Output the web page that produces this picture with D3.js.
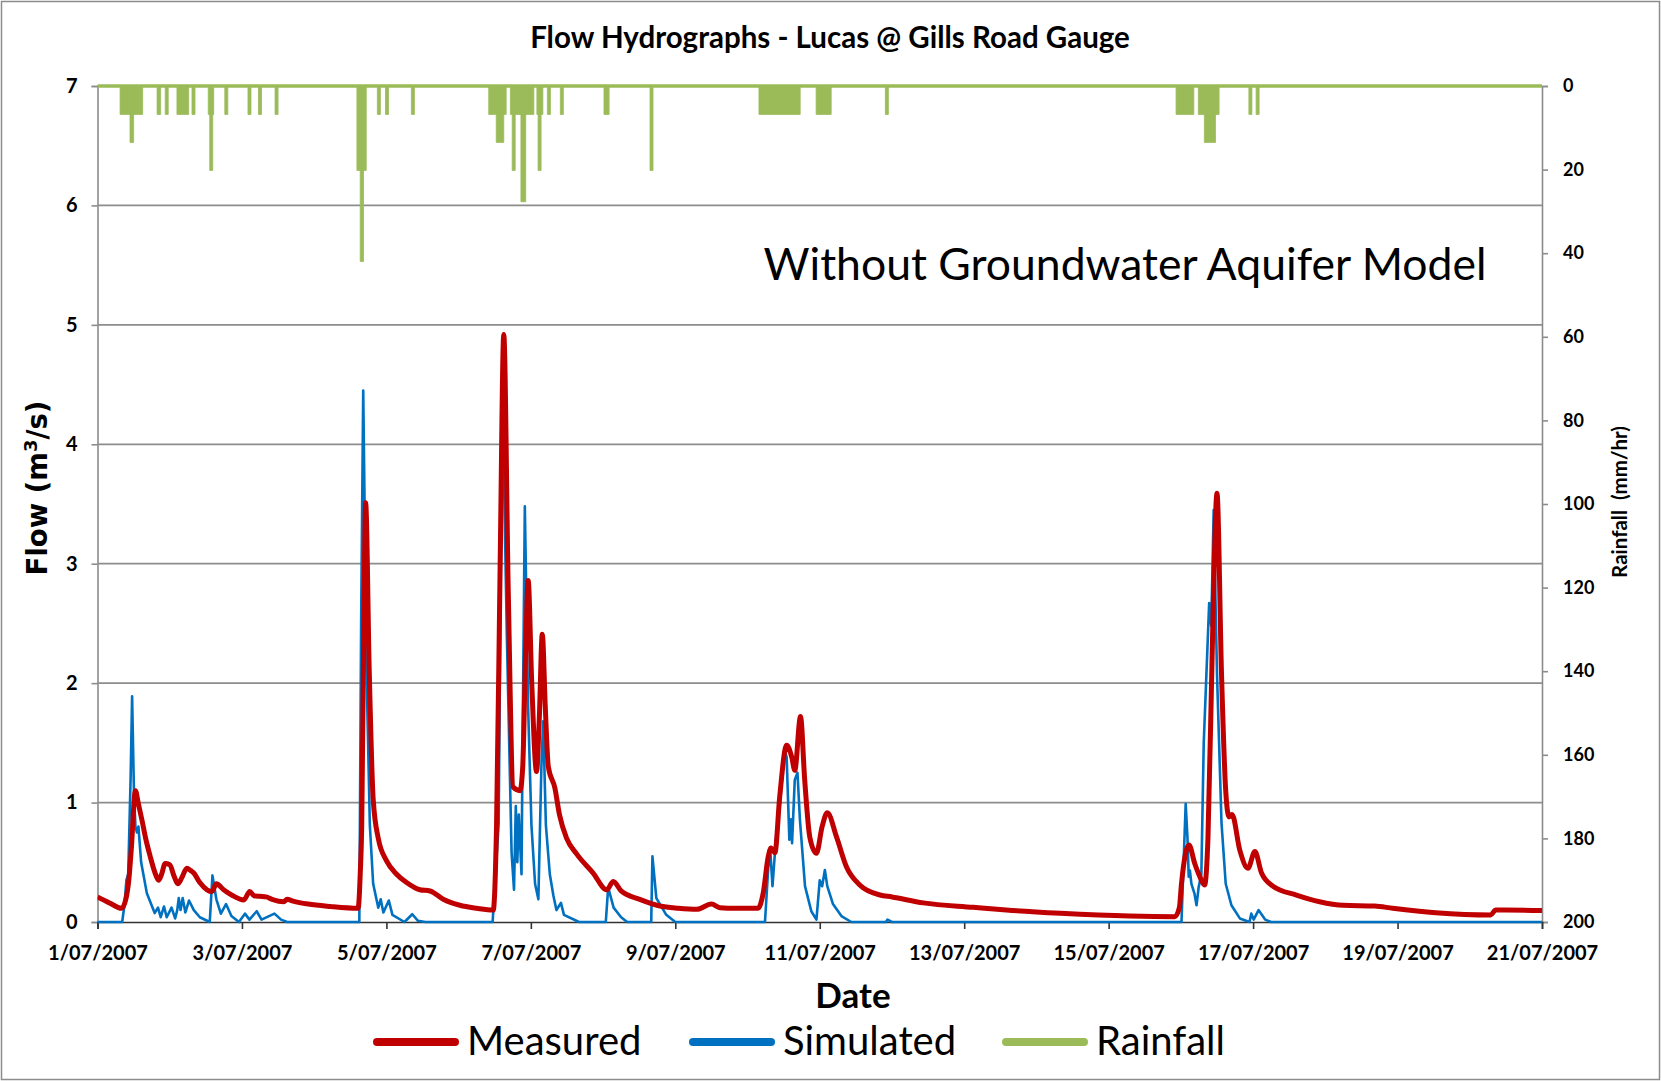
<!DOCTYPE html>
<html><head><meta charset="utf-8">
<script src="https://cdn.jsdelivr.net/npm/d3@7/dist/d3.min.js"></script>
<style>body{margin:0;background:#fff;} svg{display:block;}</style>
</head><body><svg id="chart" width="1661" height="1081"></svg>
<script>
// ---------- data ----------
const xTickLabels = ["1/07/2007","3/07/2007","5/07/2007","7/07/2007","9/07/2007","11/07/2007","13/07/2007","15/07/2007","17/07/2007","19/07/2007","21/07/2007"];
const flowTicks = [0,1,2,3,4,5,6,7];
const rainTicks = [0,20,40,60,80,100,120,140,160,180,200];

// hours since 1/07/2007 00:00
const measuredHours = [0,4,8,9.5,10.4,11.2,12.6,13.5,14.8,16,17.5,19,20.3,21.3,22.5,24,25.5,26.7,28,29.7,31,32,34,36.4,38,39.5,41.9,45,48.6,50.6,52,54,56,58,61.9,63,65,70,77.3,86.6,
  87.3,87.8,88.5,89.1,90.3,91.6,93.3,96.1,99.4,102.7,107.1,110.5,114.9,120.4,126,131.5,132.6,133.8,135,136.5,138.1,140.4,141.3,142.3,143.1,144.3,145.9,146.8,147.8,148.8,149.8,152,153.5,155.9,159.2,164.7,169.2,171.4,174,180.2,186.9,193,199.1,204,206.8,212,
  219.5,221.2,222.9,223.8,225.1,226.7,229,230.7,231.7,233.6,235,236.7,238.9,240.8,242.5,245.6,248.9,253.3,260,264,274.4,291,302,320,343,358,
  359.5,360.2,362.7,364.6,366.3,367.9,369,370.5,372,373.5,374.9,376,377,379.6,382.3,384.6,386.8,390.6,398.4,406.1,414,424.4,430.4,444.7,463,464.5,468,480];
const measuredFlow = [0.21,0.16,0.115,0.2,0.35,0.6,1.1,1.0,0.85,0.7,0.55,0.42,0.35,0.4,0.49,0.48,0.38,0.32,0.37,0.45,0.43,0.41,0.33,0.27,0.255,0.32,0.27,0.22,0.185,0.255,0.22,0.215,0.21,0.19,0.17,0.19,0.175,0.15,0.13,0.115,
  0.4,0.81,2.5,3.51,2.1,1.03,0.7,0.51,0.4,0.33,0.27,0.26,0.19,0.14,0.115,0.1,0.81,3.0,4.92,2.76,1.13,1.1,1.3,2.3,2.86,2.0,1.26,1.7,2.41,1.8,1.3,1.12,0.9,0.7,0.57,0.41,0.27,0.34,0.26,0.19,0.134,0.115,0.106,0.15,0.12,0.115,
  0.115,0.24,0.55,0.62,0.58,1.05,1.48,1.38,1.27,1.72,1.19,0.71,0.575,0.8,0.915,0.71,0.46,0.31,0.226,0.21,0.16,0.123,0.1,0.073,0.05,0.045,
  0.12,0.32,0.645,0.49,0.38,0.31,0.7,2.36,3.59,2.08,1.1,0.88,0.9,0.6,0.45,0.59,0.41,0.3,0.226,0.17,0.14,0.134,0.115,0.078,0.059,0.1,0.1,0.096];

const simulatedHours = [0,8.2,9,9.6,10.2,11,11.5,12.1,12.6,13.1,13.6,14.5,16.4,19,20.1,21,22.1,23,24.6,25.8,26.5,27,27.6,28.3,29.2,30.4,32,34,37.3,38.2,39.5,41,42.7,44.5,47,49,50.5,52.9,54.5,58.8,61,63,
  87,87.6,88.3,89.4,90.5,91.6,93.3,94.1,95,96.8,98,102,104.6,106.5,109,
  131.3,132.5,133.3,134,134.6,136,137.6,138.4,139,139.5,140,140.9,141.3,142,143.1,144.2,145.4,146.5,147.5,148.1,149,150.3,151.5,152.5,154,155,160,
  168.9,169.7,171.5,174,176,184,184.4,185.7,189,192,
  221.8,222.9,223.6,224.3,225.6,226.7,228.3,229,229.9,230.4,230.8,231.7,232.6,233.4,235.1,237.2,238.9,240,240.8,241.7,242.5,244.4,247.2,250.5,262,262.5,264,
  360.2,361.6,362.2,362.6,363,363.5,364.5,365.2,365.9,366.8,367.6,369.4,370.1,370.9,372,373.5,374.9,376.8,379.6,382.8,383.4,384.2,385.8,388,390,480];
const simulatedFlow = [0,0,0.15,0.35,0.4,1.2,1.89,1.1,0.8,0.75,0.8,0.5,0.24,0.075,0.12,0.04,0.13,0.04,0.12,0.03,0.1,0.2,0.1,0.2,0.08,0.18,0.1,0.04,0,0.39,0.19,0.07,0.15,0.05,0,0.07,0.02,0.09,0.02,0.07,0.02,0,
  0,2.5,4.45,2.1,0.81,0.32,0.12,0.19,0.08,0.18,0.06,0,0.065,0.01,0,
  0,0.5,0.82,2.9,4.38,2.43,0.58,0.27,0.97,0.5,0.9,0.4,1.62,3.48,1.79,0.81,0.32,0.19,1.3,1.68,0.81,0.4,0.22,0.1,0.16,0.06,0,
  0,0.29,0.12,0.04,0,0,0.55,0.2,0.06,0,
  0,0.46,0.58,0.3,0.75,0.97,1.44,1.38,0.69,0.86,0.66,1.19,1.25,0.86,0.3,0.09,0.02,0.35,0.3,0.435,0.3,0.15,0.05,0,0,0.02,0,
  0,0.99,0.7,0.38,0.43,0.32,0.24,0.14,0.29,0.4,1.5,2.67,2.48,3.45,2.08,0.83,0.32,0.14,0.03,0,0.07,0.02,0.1,0.02,0,0];

// rainfall bursts: start hour, end hour, intensity (mm/hr)
const rainStart = [7.5,10.8,19.8,22.5,26.4,31.4,36.8,37.3,42.3,50,53.5,59,86.2,87.3,93,95.7,104.3,130,132.5,137.2,137.8,140.7,146,146.4,149.5,153.8,168.3,183.6,219.8,238.8,261.8,358.4,365.8,367.8,382.6,385];
const rainEnd   = [15,12,21,23.5,30.3,32.4,38.6,38.3,43.3,51,54.5,60,89.3,88.4,94,96.7,105.3,135.8,135,145,138.8,142.3,148,147.4,150.5,154.8,170,184.6,233.5,243.8,262.8,364.3,372.7,371.5,383.6,386];
const rainMm    = [6.8,13.5,6.8,6.8,6.8,6.8,6.8,20.2,6.8,6.8,6.8,6.8,20.2,42,6.8,6.8,6.8,6.8,13.5,6.8,20.2,27.7,6.8,20.2,6.8,6.8,6.8,20.2,6.8,6.8,6.8,6.8,6.8,13.5,6.8,6.8];

// ---------- chart ----------
const svg = d3.select("#chart");
const W = 1661, H = 1081;
const plot = {left: 97.5, right: 1542, top: 86, bottom: 922};
const parseTick = d3.timeParse("%d/%m/%Y");
const tickDates = xTickLabels.map(parseTick);
const t0 = tickDates[0];
const hourToDate = h => new Date(t0.getTime() + h * 3600000);

const x = d3.scaleTime().domain([tickDates[0], tickDates[tickDates.length-1]]).range([plot.left, plot.right]);
const yFlow = d3.scaleLinear().domain([0,7]).range([plot.bottom, plot.top]);
const yRain = d3.scaleLinear().domain([0,200]).range([plot.top, plot.bottom]);

const FONT = "Lato, 'Open Sans', sans-serif";

// outer border
svg.append("rect").attr("x",1.5).attr("y",1.5).attr("width",W-3).attr("height",H-3)
  .attr("fill","#fff").attr("stroke","#8c8c8c").attr("stroke-width",1.5);

// gridlines
svg.append("g").selectAll("line").data(flowTicks.filter(d=>d>0)).join("line")
  .attr("x1",plot.left).attr("x2",plot.right)
  .attr("y1",d=>yFlow(d)).attr("y2",d=>yFlow(d))
  .attr("stroke","#8c8c8c").attr("stroke-width",1.8);

// left axis
const gl = svg.append("g").attr("transform",`translate(${plot.left},0)`)
  .call(d3.axisLeft(yFlow).tickValues(flowTicks).tickSize(6).tickPadding(14).tickFormat(d3.format("d")));
gl.select(".domain").attr("stroke","#8c8c8c").attr("stroke-width",1.6);
gl.selectAll(".tick line").attr("stroke","#8c8c8c").attr("stroke-width",1.6);
gl.selectAll(".tick text").attr("font-family",FONT).attr("font-weight","bold").attr("font-size",20).attr("fill","#000");

// right axis
const gr = svg.append("g").attr("transform",`translate(${plot.right},0)`)
  .call(d3.axisRight(yRain).tickValues(rainTicks).tickSize(6).tickPadding(15));
gr.select(".domain").attr("stroke","#8c8c8c").attr("stroke-width",1.6);
gr.selectAll(".tick line").attr("stroke","#8c8c8c").attr("stroke-width",1.6);
gr.selectAll(".tick text").attr("font-family",FONT).attr("font-weight","bold").attr("font-size",18).attr("fill","#000");

// bottom axis
const gb = svg.append("g").attr("transform",`translate(0,${plot.bottom})`)
  .call(d3.axisBottom(x).tickValues(tickDates).tickSize(7).tickPadding(17).tickFormat((d,i)=>xTickLabels[i]));
gb.select(".domain").attr("stroke","#333").attr("stroke-width",1.6);
gb.selectAll(".tick line").attr("stroke","#333").attr("stroke-width",1.6);
gb.selectAll(".tick text").attr("font-family",FONT).attr("font-weight","bold").attr("font-size",20).attr("fill","#000");

// clip
svg.append("clipPath").attr("id","clip").append("rect")
  .attr("x",plot.left).attr("y",plot.top-4).attr("width",plot.right-plot.left).attr("height",plot.bottom-plot.top+8);

const series = svg.append("g").attr("clip-path","url(#clip)");

// rainfall
const rain = rainStart.map((s,i)=>({s, e: rainEnd[i], v: rainMm[i]}));
series.append("g").selectAll("rect").data(rain).join("rect")
  .attr("x",d=>x(hourToDate(d.s))).attr("width",d=>x(hourToDate(d.e))-x(hourToDate(d.s)))
  .attr("y",yRain(0)).attr("height",d=>yRain(d.v)-yRain(0))
  .attr("fill","#9BBB59").attr("stroke","#9BBB59").attr("stroke-width",0.8).attr("stroke-linejoin","round");
series.append("path").datum([0,480])
  .attr("d",d3.line().x(h=>x(hourToDate(h))).y(()=>yRain(0)))
  .attr("stroke","#9BBB59").attr("stroke-width",3.5).attr("fill","none");

// simulated
const lineGen = d3.line().x(d=>x(hourToDate(d[0]))).y(d=>yFlow(d[1]));
series.append("path").datum(simulatedHours.map((h,i)=>[h,simulatedFlow[i]]))
  .attr("d",lineGen).attr("fill","none").attr("stroke","#0070C0").attr("stroke-width",2.6).attr("stroke-linejoin","round");
// measured
series.append("path").datum(measuredHours.map((h,i)=>[h,measuredFlow[i]]))
  .attr("d",lineGen.curve(d3.curveMonotoneX)).attr("fill","none").attr("stroke","#C00000").attr("stroke-width",5).attr("stroke-linejoin","round");

// titles
svg.append("text").attr("x",830).attr("y",48).attr("text-anchor","middle")
  .attr("font-family",FONT).attr("font-weight","bold").attr("font-size",29.5).text("Flow Hydrographs - Lucas @ Gills Road Gauge");
svg.append("text").attr("x",1125).attr("y",280).attr("text-anchor","middle")
  .attr("font-family",FONT).attr("font-size",44.5).text("Without Groundwater Aquifer Model");

// axis labels
const fl = svg.append("text").attr("transform","translate(47,488) rotate(-90)").attr("text-anchor","middle")
  .attr("font-family","'DejaVu Sans', Verdana, sans-serif").attr("font-weight","bold").attr("font-size",27.5);
fl.append("tspan").text("Flow (m");
fl.append("tspan").attr("font-size",18).attr("dy",-10).text("3");
fl.append("tspan").attr("dy",10).text("/s)");

svg.append("text").attr("transform","translate(1627,502) rotate(-90)").attr("text-anchor","middle")
  .attr("font-family",FONT).attr("font-weight","bold").attr("font-size",20.5).style("white-space","pre").text("Rainfall  (mm/hr)");

svg.append("text").attr("x",853).attr("y",1008).attr("text-anchor","middle")
  .attr("font-family",FONT).attr("font-weight","bold").attr("font-size",35).text("Date");

// legend
const legendNames = ["Measured","Simulated","Rainfall"];
const legendColors = ["#C00000","#0070C0","#9BBB59"];
const legendX = [373, 689, 1002];
const lg = svg.append("g").selectAll("g").data(legendNames).join("g")
  .attr("transform",(d,i)=>`translate(${legendX[i]},1042)`);
lg.append("line").attr("x1",4).attr("x2",82).attr("y1",0).attr("y2",0)
  .attr("stroke",(d,i)=>legendColors[i]).attr("stroke-width",8).attr("stroke-linecap","round");
lg.append("text").attr("x",94).attr("y",13).attr("font-family",FONT).attr("font-size",40).text(d=>d);
</script></body></html>
